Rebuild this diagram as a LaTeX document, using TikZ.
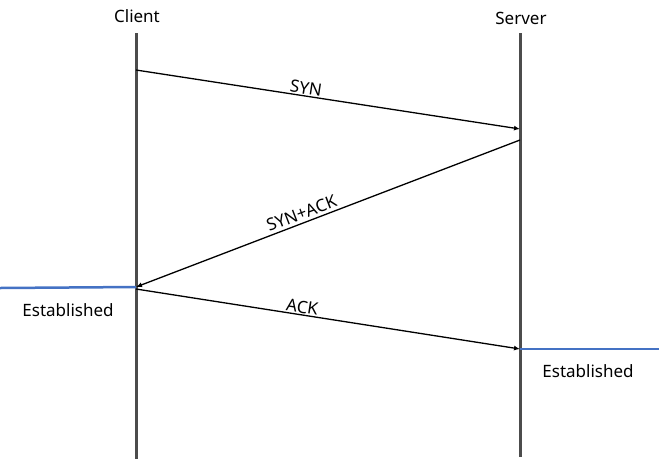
\documentclass[tikz,border=0pt]{standalone}
\usepackage{fontspec}
\setmainfont{Noto Sans}
\usepackage{tikz}
\usetikzlibrary{arrows.meta}

\begin{document}
\begin{tikzpicture}[x=1pt, y=-1pt, font=\fontsize{17}{20}\selectfont,
    lifeline/.style = {line width=3pt, draw = black!70},
    msg/.style = {line width=1.3pt, -{Latex[length=6pt,width=5pt]}},
    estab/.style = {line width=2.5pt, draw = {rgb,255:red,68;green,114;blue,196}}]
        \useasboundingbox (0,0) rectangle (659,459);
        \node (client) at (137,16) {Client};
        \node (server) at (521,18) {Server};
        \coordinate (c_top) at (136,33);
        \coordinate (c_bot) at (136,459);
        \coordinate (s_top) at (520,33);
        \coordinate (s_bot) at (520,457);
        \path(c_top) edge[lifeline] (c_bot);
        \path(s_top) edge[lifeline] (s_bot);
        \coordinate (syn_out) at (136,70);
        \coordinate (syn_in) at (520,129);
        \coordinate (synack_out) at (520,140);
        \coordinate (synack_in) at (136,287);
        \coordinate (ack_out) at (136,289);
        \coordinate (ack_in) at (520,349);
        \path(syn_out) edge[msg] node[pos=0.44, sloped, above, inner sep=1pt] {SYN} (syn_in);
        \path(synack_out) edge[msg] node[pos=0.56, sloped, above, inner sep=3pt] {SYN+ACK} (synack_in);
        \path(ack_out) edge[msg] node[pos=0.43, sloped, above, inner sep=1pt] {ACK} (ack_in);
        \coordinate (c_left) at (0,288);
        \coordinate (s_right) at (659,349);
        \path(c_left) edge[estab] (synack_in);
        \path(ack_in) edge[estab] (s_right);
        \node (c_est) at (68,310) {Established};
        \node (s_est) at (588,371) {Established};
    \end{tikzpicture}
\end{document}
